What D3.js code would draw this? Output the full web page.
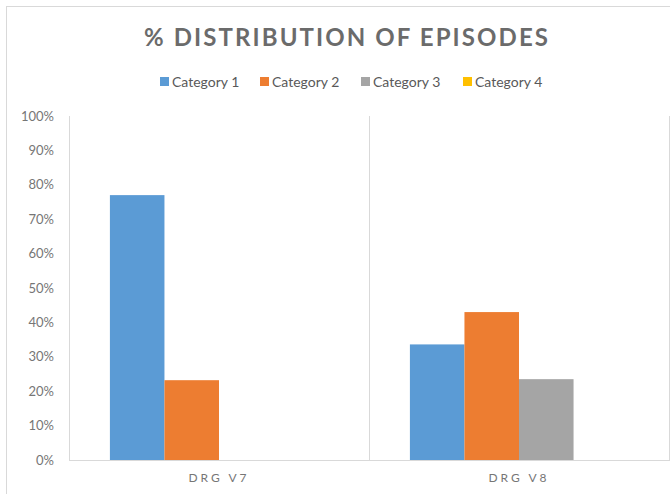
<!DOCTYPE html>
<html>
<head>
<meta charset="utf-8">
<script src="https://cdn.jsdelivr.net/npm/d3@7"></script>
<style>
  body { margin: 0; background: #fff; }
  text { font-family: Lato, "Open Sans", sans-serif; fill: #595959; }
</style>
</head>
<body>
<div id="chart"></div>
<script>
const categories = ["DRG V7", "DRG V8"];
const seriesNames = ["Category 1", "Category 2", "Category 3", "Category 4"];
const seriesColors = ["#5B9BD5", "#ED7D31", "#A5A5A5", "#FFC000"];
// value per series, one entry per category
const cat1 = [0.77, 0.336];
const cat2 = [0.232, 0.43];
const cat3 = [0, 0.235];
const cat4 = [0, 0];
const yTicks = [0, 0.1, 0.2, 0.3, 0.4, 0.5, 0.6, 0.7, 0.8, 0.9, 1];

const seriesValues = [cat1, cat2, cat3, cat4];

const width = 670;
const height = 494;
const plot = { left: 69, right: 669, top: 116, bottom: 460 };

const svg = d3.select("#chart").append("svg")
  .attr("width", width)
  .attr("height", height);

// chart border (runs off the right and bottom of the picture)
svg.append("rect")
  .attr("x", 6.5).attr("y", 6.5)
  .attr("width", 700).attr("height", 520)
  .attr("fill", "none")
  .attr("stroke", "#d9d9d9");

svg.append("text")
  .attr("x", 346).attr("y", 46)
  .attr("text-anchor", "middle")
  .attr("font-size", "24px")
  .attr("font-weight", "bold")
  .attr("textLength", 404)
  .attr("lengthAdjust", "spacing")
  .style("fill", "#6b6b6b")
  .text("% DISTRIBUTION OF EPISODES");

// legend
const legendX = [160, 260, 361, 463];
const legend = svg.selectAll("g.legend")
  .data(seriesNames)
  .enter().append("g")
  .attr("class", "legend")
  .attr("transform", (d, i) => `translate(${legendX[i]},77)`);

legend.append("rect")
  .attr("width", 9).attr("height", 9)
  .attr("fill", (d, i) => seriesColors[i]);

legend.append("text")
  .attr("x", 12).attr("y", 9.5)
  .attr("font-size", "14px")
  .text(d => d);

const x0 = d3.scaleBand()
  .domain(categories)
  .range([plot.left, plot.right]);

const x1 = d3.scaleBand()
  .domain(seriesNames)
  .range([0, x0.bandwidth()])
  .paddingInner(0)
  .paddingOuter(0.75);

const y = d3.scaleLinear()
  .domain([0, 1])
  .range([plot.bottom, plot.top]);

// vertical dividers between categories
const dividers = categories.map(c => x0(c)).concat([x0(categories[categories.length - 1]) + x0.bandwidth()]);
svg.selectAll("line.div")
  .data(dividers)
  .enter().append("line")
  .attr("x1", d => d + 0.5).attr("x2", d => d + 0.5)
  .attr("y1", plot.top).attr("y2", plot.bottom)
  .attr("stroke", "#d9d9d9");

// bars
const groups = svg.selectAll("g.cat")
  .data(categories)
  .enter().append("g")
  .attr("transform", d => `translate(${x0(d)},0)`);

groups.selectAll("rect")
  .data((c, ci) => seriesNames.map((s, si) => ({ s, si, v: seriesValues[si][ci] })))
  .enter().append("rect")
  .attr("x", d => x1(d.s))
  .attr("width", x1.bandwidth())
  .attr("y", d => y(d.v))
  .attr("height", d => y(0) - y(d.v))
  .attr("fill", d => seriesColors[d.si]);

// baseline
svg.append("line")
  .attr("x1", plot.left).attr("x2", plot.right + 1)
  .attr("y1", plot.bottom + 0.5).attr("y2", plot.bottom + 0.5)
  .attr("stroke", "#d9d9d9");

// y axis
const yAxis = d3.axisLeft(y)
  .tickValues(yTicks)
  .tickFormat(d3.format(".0%"))
  .tickSize(0)
  .tickPadding(0);

const yg = svg.append("g")
  .attr("transform", `translate(${plot.left - 15},0)`)
  .call(yAxis);
yg.select(".domain").remove();
yg.selectAll("text")
  .attr("font-size", "13px")
  .style("font-family", "Lato, 'Open Sans', sans-serif")
  .style("fill", "#767676");

// x labels
svg.selectAll("text.xlab")
  .data(categories)
  .enter().append("text")
  .attr("class", "xlab")
  .attr("x", d => x0(d) + x0.bandwidth() / 2)
  .attr("y", 482)
  .attr("text-anchor", "middle")
  .attr("font-size", "12px")
  .attr("letter-spacing", "3px")
  .style("fill", "#767676")
  .text(d => d);
</script>
</body>
</html>
